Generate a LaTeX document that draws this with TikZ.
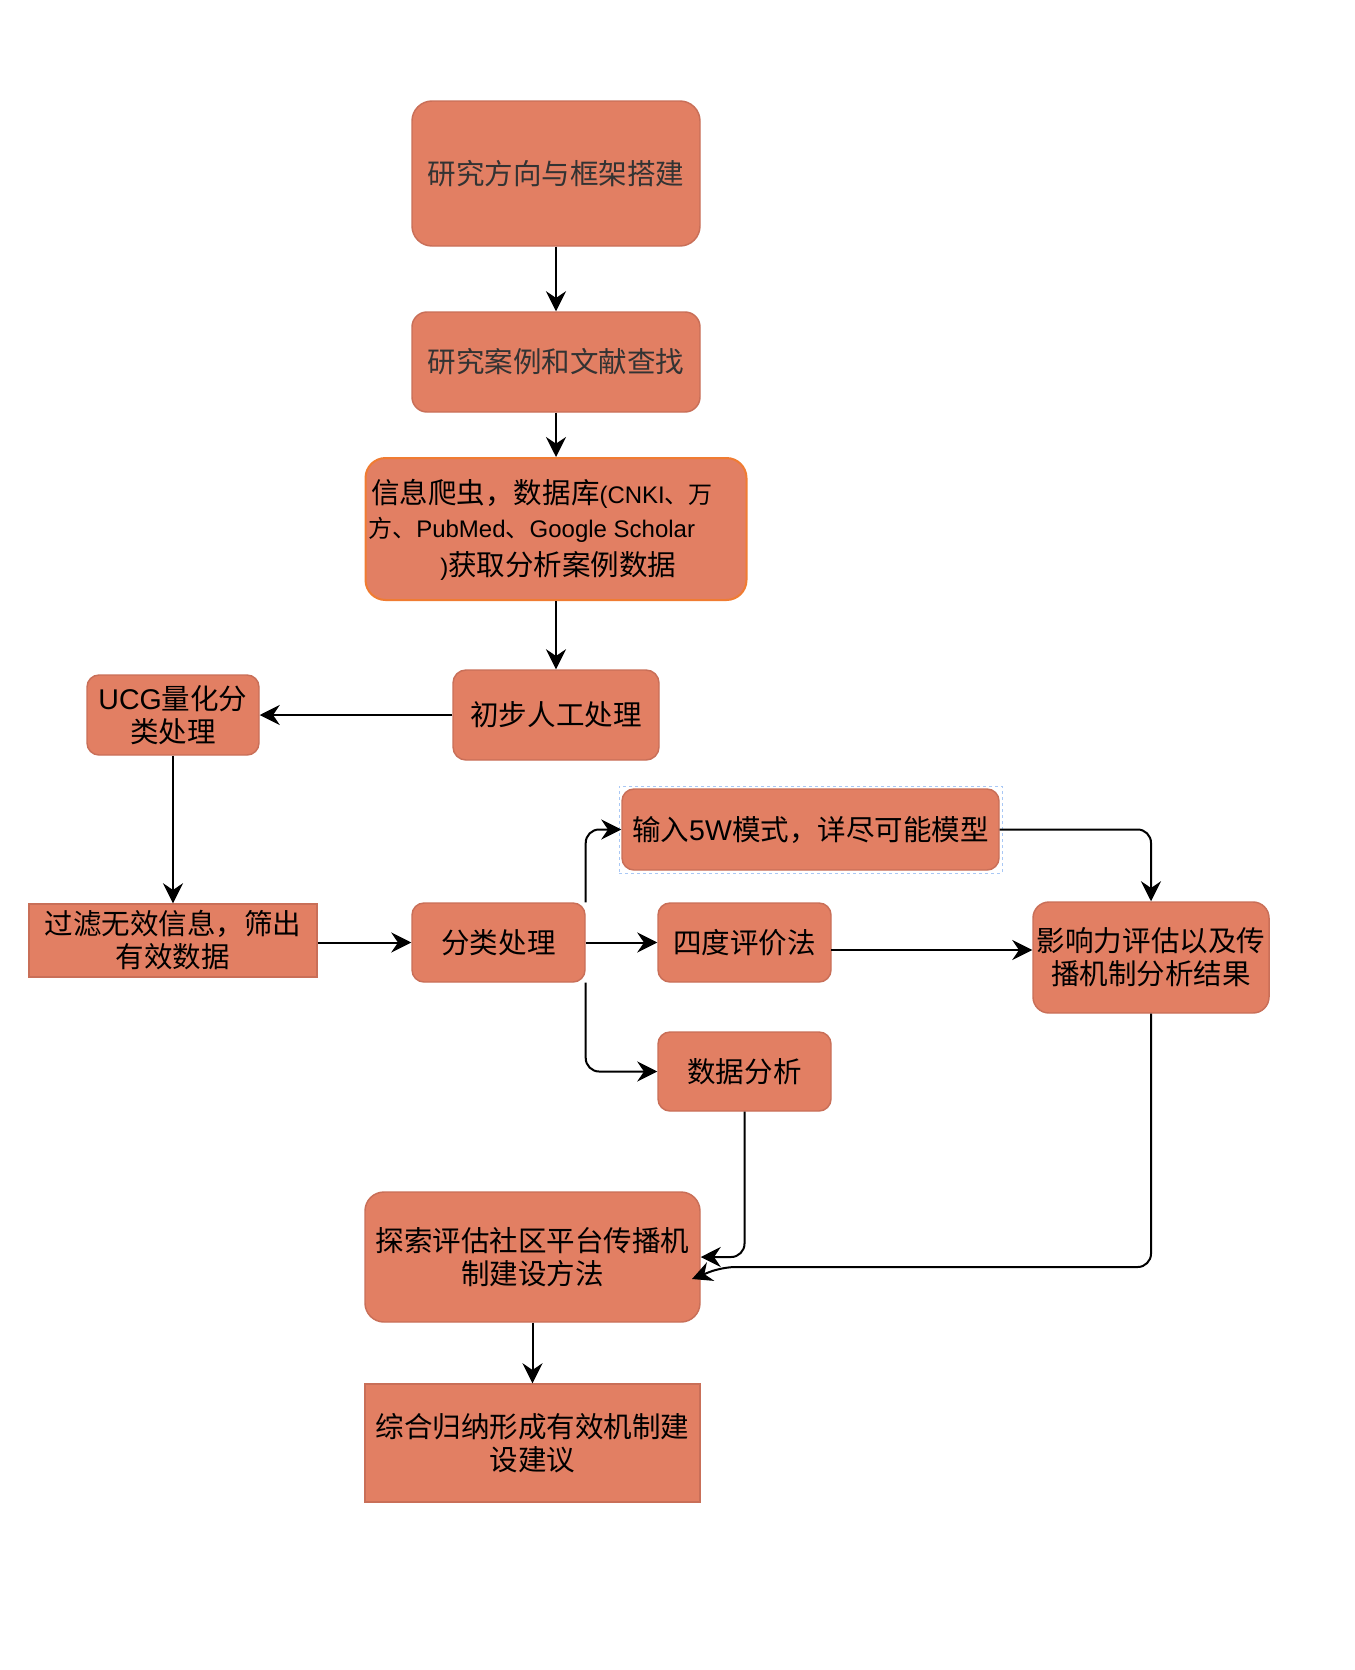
\documentclass[tikz,border=0pt]{standalone}
\usepackage{fontspec}
\setmainfont{Liberation Sans}
\newfontfamily\cjk{Noto Sans CJK SC}
\newfontfamily\lat{Liberation Sans}
\usetikzlibrary{arrows.meta}
\definecolor{boxfill}{HTML}{E27F63}
\definecolor{boxline}{HTML}{C96F58}
\definecolor{orangeline}{HTML}{F07C32}
\definecolor{selblue}{HTML}{A9C8F5}
\definecolor{graytext}{HTML}{333333}
\tikzset{
  box/.style={draw=boxline, fill=boxfill, line width=1.1pt, align=center, inner sep=0pt,
    font=\cjk\fontsize{21.4pt}{24.8pt}\selectfont},
  arr/.style={-{Stealth[length=15pt,width=15pt,inset=5pt]}, line width=1.5pt},
  linetext/.style={inner sep=0pt, anchor=base west},
}
\begin{document}
\begin{tikzpicture}[x=0.75pt,y=-0.75pt]
\useasboundingbox (0,0) rectangle (1355,1670);

% boxes
\node[box, text=graytext, rounded corners=15pt, minimum width=216pt, minimum height=108.75pt] (b1) at (556,173.5) {研究方向与框架搭建};
\node[box, text=graytext, rounded corners=11.25pt, minimum width=216pt, minimum height=75pt] (b2) at (556,362) {研究案例和文献查找};
\node[box, draw=orangeline, line width=1.5pt, rounded corners=15pt, minimum width=285.75pt, minimum height=106.5pt] (b3) at (556,529) {};
\node[linetext, font=\cjk\fontsize{21.4pt}{24.8pt}\selectfont] (t3a) at (371,503) {信息爬虫，数据库{\fontsize{18pt}{21pt}\selectfont\lat (CNKI{\cjk 、万}}};
\node[linetext, font=\lat\fontsize{18pt}{21pt}\selectfont] (t3b) at (368,537) {{\cjk 方、}PubMed{\cjk 、}Google Scholar};
\node[linetext, font=\cjk\fontsize{21.4pt}{24.8pt}\selectfont] (t3c) at (440,575) {{\lat\fontsize{18pt}{21pt}\selectfont )}获取分析案例数据};
\node[box, rounded corners=9.75pt, minimum width=154.5pt, minimum height=67.5pt] (b4) at (556,715) {初步人工处理};
\node[box, rounded corners=9pt, minimum width=129pt, minimum height=60pt] (b5) at (173,715) {{\lat UCG}量化分\\类处理};
\node[box, minimum width=216pt, minimum height=54.75pt] (b6) at (173,940.5) {过滤无效信息，筛出\\有效数据};
\node[box, rounded corners=9pt, minimum width=129.75pt, minimum height=59.25pt] (b7) at (498.5,942.5) {分类处理};
\node[draw=selblue, dash pattern=on 2.25pt off 2.25pt, line width=0.75pt, minimum width=287.25pt, minimum height=65.25pt, inner sep=0pt] (sel) at (810.5,829.5) {};
\node[box, rounded corners=9pt, minimum width=282.75pt, minimum height=60.75pt] (b8) at (810.5,829.5) {输入{\lat 5W}模式，详尽可能模型};
\node[box, rounded corners=9pt, minimum width=129.75pt, minimum height=59.25pt] (b9) at (744.5,942.5) {四度评价法};
\node[box, rounded corners=9pt, minimum width=129.75pt, minimum height=59.25pt] (b10) at (744.5,1071.5) {数据分析};
\node[box, rounded corners=12pt, minimum width=177pt, minimum height=83.25pt] (b11) at (1151,957.5) {影响力评估以及传\\播机制分析结果};
\node[box, rounded corners=14.25pt, minimum width=251.25pt, minimum height=97.5pt] (b12) at (532.5,1257) {探索评估社区平台传播机\\制建设方法};
\node[box, minimum width=251.25pt, minimum height=88.5pt] (b13) at (532.5,1443) {综合归纳形成有效机制建\\设建议};

% connectors
\draw[arr] (b1.south) -- (b2.north);
\draw[arr] (b2.south) -- (b3.north);
\draw[arr] (b3.south) -- (b4.north);
\draw[arr] (b4.west) -- (b5.east);
\draw[arr] (b5.south) -- (b6.north);
\draw[arr] (b6.east |- b7.west) -- (b7.west);
\draw[arr, rounded corners=10pt] (b7.north east) |- (b8.west);
\draw[arr] (b7.east) -- (b9.west);
\draw[arr, rounded corners=10pt] (b7.south east) |- (b10.west);
\coordinate (a9s) at (831,950);
\draw[arr] (a9s) -- (a9s -| b11.west);
\draw[arr, rounded corners=10pt] (b8.east) -| (b11.north);
\draw[arr, rounded corners=10pt] (b10.south) |- (b12.east);
\coordinate (a13k) at (722,1267);
\coordinate (a13t) at (692,1279);
\draw[arr, rounded corners=10pt] (b11.south) |- (a13k) -- (a13t);
\draw[arr] (b12.south) -- (b13.north);
\end{tikzpicture}
\end{document}
